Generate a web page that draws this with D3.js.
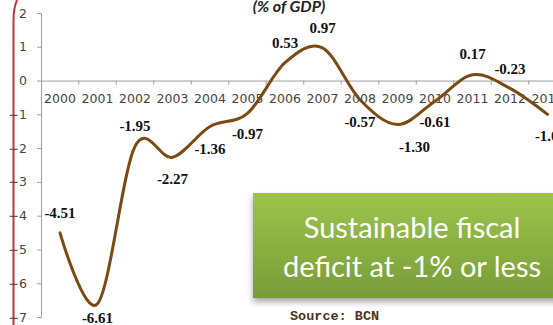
<!DOCTYPE html>
<html>
<head>
<meta charset="utf-8">
<script src="https://cdn.jsdelivr.net/npm/d3@7"></script>
<style>
  body { margin: 0; background: #fff; }
  svg { display: block; }
</style>
</head>
<body>
<div id="container"></div>
<script>
// data
const years = ["2000","2001","2002","2003","2004","2005","2006","2007","2008","2009","2010","2011","2012","2013"];
const deficit = [-4.51, -6.61, -1.95, -2.27, -1.36, -0.97, 0.53, 0.97, -0.57, -1.30, -0.61, 0.17, -0.23, -1.00];
const yTicks = [-7, -6, -5, -4, -3, -2, -1, 0, 1, 2];
const titleText = "(% of GDP)";
const boxLines = ["Sustainable fiscal", "deficit at -1% or less"];
const sourceText = "Source: BCN";

// label offsets from each point (px)
const labelOffset = [[0,-20],[0,14],[0,-21],[0,22],[0,22],[0,20],[0,-20],[0,-20],[0,22],[17,22],[0,21],[0,-21],[0,-20],[3,21]];

const width = 553, height = 325;

const svg = d3.select("#container").append("svg")
  .attr("width", width)
  .attr("height", height);

const defs = svg.append("defs");
const grad = defs.append("linearGradient")
  .attr("id", "boxGrad")
  .attr("x1", 0).attr("y1", 0).attr("x2", 0).attr("y2", 1);
grad.append("stop").attr("offset", "0%").attr("stop-color", "#9dc44c");
grad.append("stop").attr("offset", "100%").attr("stop-color", "#789c38");

const shadow = defs.append("filter").attr("id", "shadow")
  .attr("x", "-10%").attr("y", "-10%").attr("width", "130%").attr("height", "140%");
shadow.append("feDropShadow")
  .attr("dx", 0).attr("dy", 4).attr("stdDeviation", 3)
  .attr("flood-color", "#000").attr("flood-opacity", 0.35);

// slide decoration: red vertical rule
svg.append("path")
  .attr("d", "M17,0 Q13.5,8 13.5,20 L13.5,325")
  .attr("fill", "none")
  .attr("stroke", "#c8323c")
  .attr("stroke-width", 2);

// SCALES
const xScale = d3.scaleBand()
  .domain(years)
  .range([41.25, 41.25 + 37.5 * years.length]);

const yScale = d3.scaleLinear()
  .domain([-7, 2])
  .range([317, 13]);

// AXES
const yAxis = d3.axisLeft(yScale)
  .tickValues(yTicks)
  .tickFormat(d3.format("d"))
  .tickSize(4)
  .tickPadding(10);

const yAxisGroup = svg.append("g")
  .attr("transform", `translate(${41},0)`)
  .call(yAxis);

yAxisGroup.selectAll("path, line").attr("stroke", "#a0a0a0");
yAxisGroup.selectAll("text")
  .style("font", "12.5px 'DejaVu Sans'")
  .attr("fill", "#444");

const xAxis = d3.axisBottom(xScale)
  .tickSize(0)
  .tickPadding(14)
  .tickSizeOuter(0);

const xAxisGroup = svg.append("g")
  .attr("transform", `translate(0,${yScale(0)})`)
  .call(xAxis);

xAxisGroup.select(".domain").attr("stroke", "#a0a0a0");
xAxisGroup.selectAll("text")
  .style("font", "12.5px 'DejaVu Sans'")
  .attr("fill", "#444");

// tick marks between categories
xAxisGroup.selectAll(".bound")
  .data(years.slice(1))
  .enter()
  .append("line")
  .attr("class", "bound")
  .attr("x1", d => xScale(d))
  .attr("x2", d => xScale(d))
  .attr("y1", 0)
  .attr("y2", 4)
  .attr("stroke", "#a0a0a0");

// title
svg.append("text")
  .attr("x", 289)
  .attr("y", 12)
  .attr("text-anchor", "middle")
  .style("font", "italic bold 16px Lato")
  .attr("fill", "#222")
  .text(titleText);

// LINE
const points = years.map((y, i) => ({year: y, value: deficit[i]}));

const lineGen = d3.line()
  .curve(d3.curveCardinal.tension(0))
  .x(d => xScale(d.year) + xScale.bandwidth() / 2)
  .y(d => yScale(d.value));

svg.append("path")
  .datum(points)
  .attr("d", lineGen)
  .attr("fill", "none")
  .attr("stroke", "#7b4a12")
  .attr("stroke-width", 3)
  .attr("stroke-linecap", "round");

// data labels
svg.selectAll(".dlabel")
  .data(points)
  .enter()
  .append("text")
  .attr("class", "dlabel")
  .attr("x", (d, i) => xScale(d.year) + xScale.bandwidth() / 2 + labelOffset[i][0])
  .attr("y", (d, i) => yScale(d.value) + labelOffset[i][1])
  .attr("dy", "0.35em")
  .attr("text-anchor", "middle")
  .style("font", "bold 15px 'Liberation Serif'")
  .attr("fill", "#111")
  .text(d => d.value.toFixed(2));

// green call-out box
svg.append("rect")
  .attr("x", 253)
  .attr("y", 193)
  .attr("width", 330)
  .attr("height", 105)
  .attr("fill", "url(#boxGrad)")
  .attr("filter", "url(#shadow)");

svg.selectAll(".boxtext")
  .data(boxLines)
  .enter()
  .append("text")
  .attr("class", "boxtext")
  .attr("x", 412)
  .attr("y", (d, i) => 238 + i * 39)
  .attr("text-anchor", "middle")
  .style("font", "29px Lato")
  .attr("fill", "#fff")
  .text(d => d);

// source
svg.append("text")
  .attr("x", 290)
  .attr("y", 320)
  .style("font", "bold 13.5px 'Liberation Mono'")
  .attr("fill", "#4a3522")
  .text(sourceText);
</script>
</body>
</html>
